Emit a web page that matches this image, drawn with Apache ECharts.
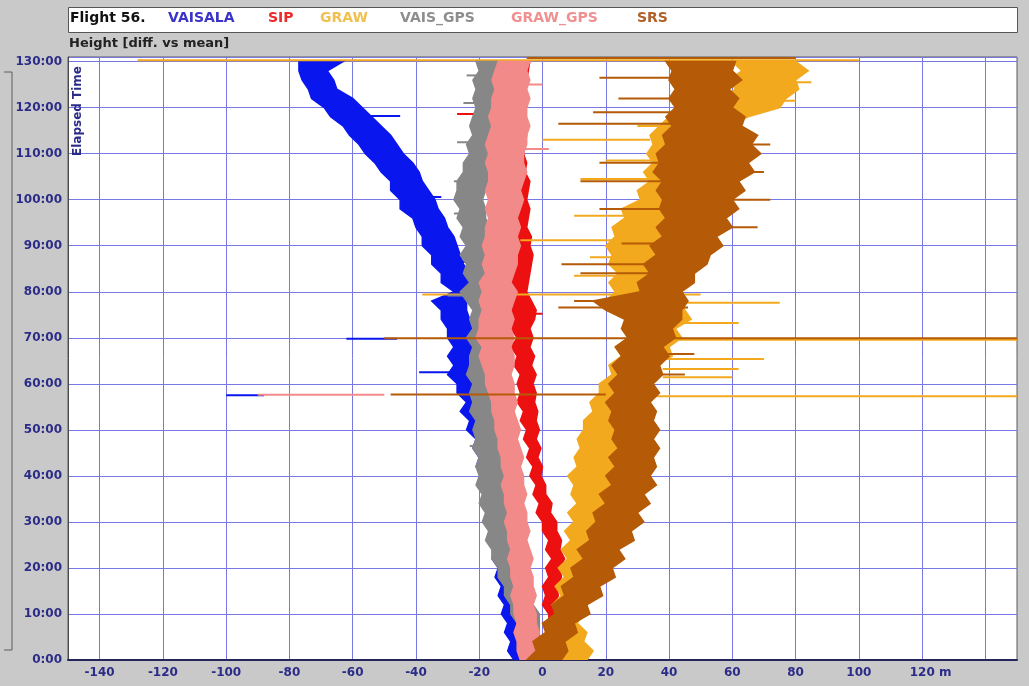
<!DOCTYPE html>
<html>
<head>
<meta charset="utf-8">
<script src="https://cdn.jsdelivr.net/npm/echarts@6/dist/echarts.min.js"></script>
<style>
  html, body { margin: 0; padding: 0; background: #c9c9c9; }
  #chart { width: 1029px; height: 686px; }
</style>
</head>
<body>
<div id="chart"></div>
<script>
// Elapsed time (minutes) at which each trace envelope is sampled
const times = [
  0, 2, 4, 6, 8, 10, 12, 14, 16, 18, 20,
  22, 24, 26, 28, 30, 32, 34, 36, 38, 40, 42,
  44, 46, 48, 50, 52, 54, 56, 58, 60, 62, 64,
  66, 68, 70, 72, 74, 76, 78, 80, 82, 84, 86,
  88, 90, 92, 94, 96, 98, 100, 102, 104, 106, 108,
  110, 112, 114, 116, 118, 120, 122, 124, 126, 128, 130
];

// Height difference vs mean (m): left / right edge of each noisy trace
const vaisalaLo = [
  -9, -11, -10, -12, -11, -13, -12, -14, -13, -15, -14,
  -16, -15, -17, -16, -18, -17, -19, -18, -20, -19, -21,
  -20, -22, -21, -24, -23, -26, -24, -27, -27, -30, -28,
  -30, -28, -30, -30, -32, -32, -35, -28, -32, -32, -35,
  -35, -38, -38, -40, -41, -45, -45, -48, -48, -51, -53,
  -56, -58, -61, -63, -67, -69, -73, -74, -76, -77, -77
];
const vaisalaHi = [
  -4, -5, -5, -6, -6, -7, -7, -8, -8, -9, -9,
  -10, -10, -11, -11, -12, -12, -13, -13, -14, -14, -15,
  -15, -16, -16, -17, -17, -18, -18, -19, -20, -20, -21,
  -20, -22, -20, -22, -23, -24, -24, -20, -22, -23, -25,
  -26, -27, -28, -30, -31, -33, -34, -36, -38, -39, -41,
  -44, -46, -48, -51, -54, -57, -60, -65, -66, -68, -63
];
const sipLo = [
  3, 5, 4, 5, 2, 2, 0, 1, 0, 2, 1,
  3, 1, 2, 0, 0, -2, -1, -3, -2, -4, -3,
  -5, -4, -6, -5, -7, -6, -8, -7, -8, -7, -9,
  -8, -10, -8, -10, -9, -10, -9, -11, -10, -10, -9,
  -9, -8, -10, -9, -10, -9, -11, -9, -11, -10, -11,
  -10, -12, -10, -11, -12, -11, -10, -12, -10, -10, -9
];
const sipHi = [
  8, 9, 9, 8, 6, 7, 4, 5, 4.5, 6, 5.5,
  7, 5.5, 6, 4.5, 4.5, 2.5, 3, 1, 1, -0.5, 0,
  -1.5, -0.5, -2, -1, -2, -1.5, -2.5, -2, -3, -2, -3.5,
  -2.5, -4, -3, -4, -2.5, -2, -3.5, -5, -4.5, -4, -3.5,
  -3, -4, -3.5, -5, -4.5, -4, -5, -4.5, -4, -5.5, -5,
  -6, -5.5, -5, -6.5, -6, -5.5, -5, -6, -5, -4.5, -4
];
const grawLo = [
  5, 8, 6, 6, 3, 5, 3, 6, 4, 7, 5,
  8, 6, 9, 7, 10, 8, 11, 9, 10, 8, 11,
  10, 12, 11, 13, 13, 16, 15, 18, 18, 22, 21,
  25, 23, 27, 25, 30, 26, 20, 23, 21, 24, 21,
  22, 20, 23, 22, 26, 25, 31, 30, 34, 32, 35,
  33, 35, 34, 37, 40, 50, 57, 61, 59, 63, 60
];
const grawHi = [
  14, 16, 13, 14, 11, 13, 12, 15, 14, 17, 16,
  18, 17, 19, 18, 20, 19, 21, 20, 23, 21, 24,
  22, 25, 23, 26, 25, 28, 27, 31, 31, 36, 35,
  41, 40, 44, 42, 47, 45, 44, 37, 33, 36, 33,
  36, 35, 39, 39, 43, 43, 47, 46, 49, 47, 50,
  49, 53, 53, 59, 65, 75, 77, 81, 80, 84, 80
];
const vaisGpsLo = [
  -6, -7, -7, -8, -8, -10, -10, -12, -12, -14, -14,
  -16, -16, -18, -17, -19, -18, -20, -19, -21, -20, -21,
  -20, -22, -21, -22, -21, -23, -22, -23, -22, -24, -23,
  -23, -22, -24, -22, -23, -22, -24, -26, -23, -25, -24,
  -26, -24, -26, -25, -27, -26, -28, -27, -27, -25, -25,
  -23, -24, -22, -23, -22, -21, -22, -21, -22, -20, -21
];
const vaisGpsHi = [
  0, 0, -1, -1, -1, -1, -3, -4, -5, -6, -7,
  -8, -9, -10, -10, -10, -11, -11, -12, -12, -12, -13,
  -13, -14, -14, -14, -15, -15, -15, -15, -15, -16, -16,
  -16, -16, -16, -15, -16, -16, -16, -17, -17, -17, -17,
  -17, -17, -17, -17, -18, -18, -19, -18, -17, -17, -16,
  -16, -15, -15, -15, -14, -14, -14, -14, -14, -14, -14
];
const grawGpsLo = [
  -7, -8, -8, -9, -8, -9, -9, -10, -9, -10, -10,
  -11, -10, -11, -11, -12, -11, -12, -12, -13, -12, -13,
  -13, -14, -14, -15, -15, -16, -16, -17, -18, -18, -19,
  -20, -19, -21, -20, -20, -19, -20, -19, -20, -18, -19,
  -18, -19, -18, -18, -17, -18, -17, -18, -17, -17, -18,
  -17, -18, -17, -16, -17, -16, -16, -15, -16, -15, -14
];
const grawGpsHi = [
  -1, -1, -2, -1, -2, -2, -3, -2, -3, -3, -4,
  -3, -4, -5, -4, -5, -5, -6, -5, -6, -6, -7,
  -6, -7, -8, -7, -8, -9, -8, -9, -9, -10, -9,
  -9, -10, -9, -10, -9, -10, -9, -8, -10, -9, -8,
  -8, -7, -8, -7, -8, -7, -6, -7, -6, -5, -6,
  -6, -5, -5, -4, -5, -5, -4, -5, -4, -5, -4
];
const srsLo = [
  -5, -2, -3, 1, 0, 4, 3, 7, 6, 10, 9,
  13, 11, 15, 14, 17, 16, 20, 18, 22, 20, 23,
  21, 24, 22, 23, 21, 22, 20, 23, 21, 24, 22,
  25, 23, 27, 25, 26, 20, 16, 31, 30, 34, 32,
  36, 34, 38, 36, 39, 37, 38, 36, 38, 35, 37,
  36, 39, 38, 41, 39, 42, 40, 42, 40, 41, 39
];
const srsHi = [
  6, 8, 7, 11, 10, 15, 14, 19, 18, 23, 22,
  26, 24, 29, 28, 32, 30, 34, 32, 36, 34, 36,
  35, 37, 35, 37, 35, 36, 34, 37, 35, 38, 37,
  40, 38, 42, 41, 44, 44, 46, 44, 48, 48, 52,
  53, 57, 55, 60, 58, 62, 60, 64, 62, 67, 65,
  69, 66, 68, 63, 64, 60, 62, 59, 63, 60, 61
];

// Single-sample outliers: [elapsed time, from height, to height]
const vaisalaSpikes = [[57.5, -100, -88], [69.8, -62, -46], [62.5, -39, -27], [118.2, -66, -45], [100.6, -46, -32], [86.5, -34, -22]];
const sipSpikes = [[118.6, -27, -10], [75.2, -12, 0]];
const grawSpikes = [
  [130.3, -128, 100], [57.3, 20, 150], [69.6, 30, 150], [113, 0, 34], [91.2, -7, 25],
  [79.4, -38, 50], [77.6, 30, 75], [65.4, 35, 70], [63.2, 38, 62], [61.4, 38, 60],
  [73.2, 40, 62], [96.5, 10, 30], [104.5, 12, 38], [83.5, 10, 26], [125.5, 40, 85], [121.5, 45, 80],
  [87.5, 15, 30], [108.5, 20, 40], [116, 30, 45]
];
const vaisGpsSpikes = [[127, -24, -15], [121, -25, -15], [104, -28, -18], [97, -28, -18], [46.5, -23, -14], [79.2, -30, -18], [112.5, -27, -16]];
const grawGpsSpikes = [[57.6, -90, -50], [125, -14, 0], [111, -16, 2]];
const srsSpikes = [
  [69.9, -50, 150], [57.7, -48, 20], [76.6, 5, 46], [78, 10, 42], [126.5, 18, 45],
  [122, 24, 45], [119, 16, 45], [116.5, 5, 45], [108, 18, 45], [104, 12, 45],
  [98, 18, 45], [86, 6, 38], [84, 12, 38], [130.8, -5, 80], [100, 40, 72], [94, 40, 68], [112, 40, 72],
  [66.5, 30, 48], [62, 30, 45], [90.5, 25, 45], [106, 40, 70]
];

const seriesNames = ['VAISALA', 'SIP', 'GRAW', 'VAIS_GPS', 'GRAW_GPS', 'SRS'];
const xTickLabels = [-140, -120, -100, -80, -60, -40, -20, 0, 20, 40, 60, 80, 100, 120];

const traceColors = ['#0a16ee', '#ec1010', '#f3a91e', '#878787', '#f28a8a', '#b55a06'];
const legendColors = ['#3a34c8', '#ee2a2a', '#f0c050', '#8e8e8e', '#f09090', '#b06028'];
const labelColor = '#2b2b88';
const fontFamily = '"DejaVu Sans", Verdana, sans-serif';

// Each trace is drawn as its filled envelope plus its outlier strokes
function traceSeries(name, color, lo, hi, spikes) {
  return {
    type: 'custom',
    name: name,
    coordinateSystem: 'cartesian2d',
    data: [[0, 0]],
    silent: true,
    clip: true,
    renderItem: function (params, api) {
      const pts = [];
      for (let i = 0; i < times.length; i++) pts.push(api.coord([lo[i], times[i]]));
      for (let i = times.length - 1; i >= 0; i--) pts.push(api.coord([hi[i], times[i]]));
      const children = [{
        type: 'polygon',
        shape: { points: pts },
        style: { fill: color, stroke: color, lineWidth: 1.5, lineJoin: 'miter' }
      }];
      spikes.forEach(function (s) {
        const a = api.coord([s[1], s[0]]);
        const b = api.coord([s[2], s[0]]);
        children.push({
          type: 'line',
          shape: { x1: a[0], y1: a[1], x2: b[0], y2: b[1] },
          style: { stroke: color, lineWidth: 2 }
        });
      });
      return { type: 'group', children: children };
    }
  };
}

const chart = echarts.init(document.getElementById('chart'));

const legendX = [168, 268, 320, 400, 511, 637];
const headerTexts = [{
  type: 'text', left: 70, top: 11,
  style: { text: 'Flight 56.', fill: '#111', fontFamily: fontFamily, fontWeight: 'bold', fontSize: 14 }
}].concat(seriesNames.map(function (n, i) {
  return {
    type: 'text', left: legendX[i], top: 11,
    style: { text: n, fill: legendColors[i], fontFamily: fontFamily, fontWeight: 'bold', fontSize: 14 }
  };
}));

chart.setOption({
  backgroundColor: '#c9c9c9',
  animation: false,
  grid: {
    left: 68, right: 12, top: 57, bottom: 26,
    show: true, backgroundColor: '#ffffff', borderColor: '#5a5a5a', borderWidth: 1
  },
  xAxis: {
    type: 'value', min: -150, max: 150, interval: 10,
    axisLine: { show: true, onZero: false, lineStyle: { color: '#25255c', width: 2 } },
    axisTick: { show: false },
    splitLine: {
      show: true, showMinLine: true, showMaxLine: true,
      lineStyle: { color: ['rgba(0,0,0,0)', '#7878e4'], width: 1 }
    },
    axisLabel: {
      color: labelColor, fontFamily: fontFamily, fontWeight: 'bold', fontSize: 12, margin: 7,
      showMinLabel: true, showMaxLabel: true,
      rich: { pad: { width: 17 } },
      formatter: function (v) {
        if (xTickLabels.indexOf(v) < 0) return '';
        return v === 120 ? '{pad|}' + v + ' m' : String(v);
      }
    }
  },
  yAxis: {
    type: 'value', min: 0, max: 131, interval: 10,
    axisLine: { show: true, onZero: false, lineStyle: { color: '#4a4a4a', width: 1 } },
    axisTick: { show: false },
    splitLine: { show: true, lineStyle: { color: '#7878e4', width: 1 } },
    axisLabel: {
      color: labelColor, fontFamily: fontFamily, fontWeight: 'bold', fontSize: 12, margin: 6,
      formatter: function (v) { return v % 10 === 0 ? v + ':00' : ''; }
    }
  },
  graphic: [
    {
      type: 'rect', left: 68, top: 7, z: 0,
      shape: { width: 949, height: 25 },
      style: { fill: '#ffffff', stroke: '#555555', lineWidth: 1 }
    },
    {
      type: 'polyline', z: 0,
      shape: { points: [[4, 72], [12, 72], [12, 650], [4, 650]] },
      style: { stroke: '#5e5e5e', fill: null, lineWidth: 1 }
    },
    {
      type: 'text', left: 69, top: 37,
      style: { text: 'Height [diff. vs mean]', fill: '#222222', fontFamily: fontFamily, fontWeight: 'bold', fontSize: 13 }
    },
    {
      type: 'text', x: 78, y: 111, rotation: Math.PI / 2, z: 100,
      style: {
        text: 'Elapsed Time', fill: labelColor, fontFamily: fontFamily, fontWeight: 'bold', fontSize: 12,
        align: 'center', verticalAlign: 'middle'
      }
    }
  ].concat(headerTexts),
  series: [
    traceSeries(seriesNames[0], traceColors[0], vaisalaLo, vaisalaHi, vaisalaSpikes),
    traceSeries(seriesNames[1], traceColors[1], sipLo, sipHi, sipSpikes),
    traceSeries(seriesNames[2], traceColors[2], grawLo, grawHi, grawSpikes),
    traceSeries(seriesNames[3], traceColors[3], vaisGpsLo, vaisGpsHi, vaisGpsSpikes),
    traceSeries(seriesNames[4], traceColors[4], grawGpsLo, grawGpsHi, grawGpsSpikes),
    traceSeries(seriesNames[5], traceColors[5], srsLo, srsHi, srsSpikes)
  ]
});
</script>
</body>
</html>
